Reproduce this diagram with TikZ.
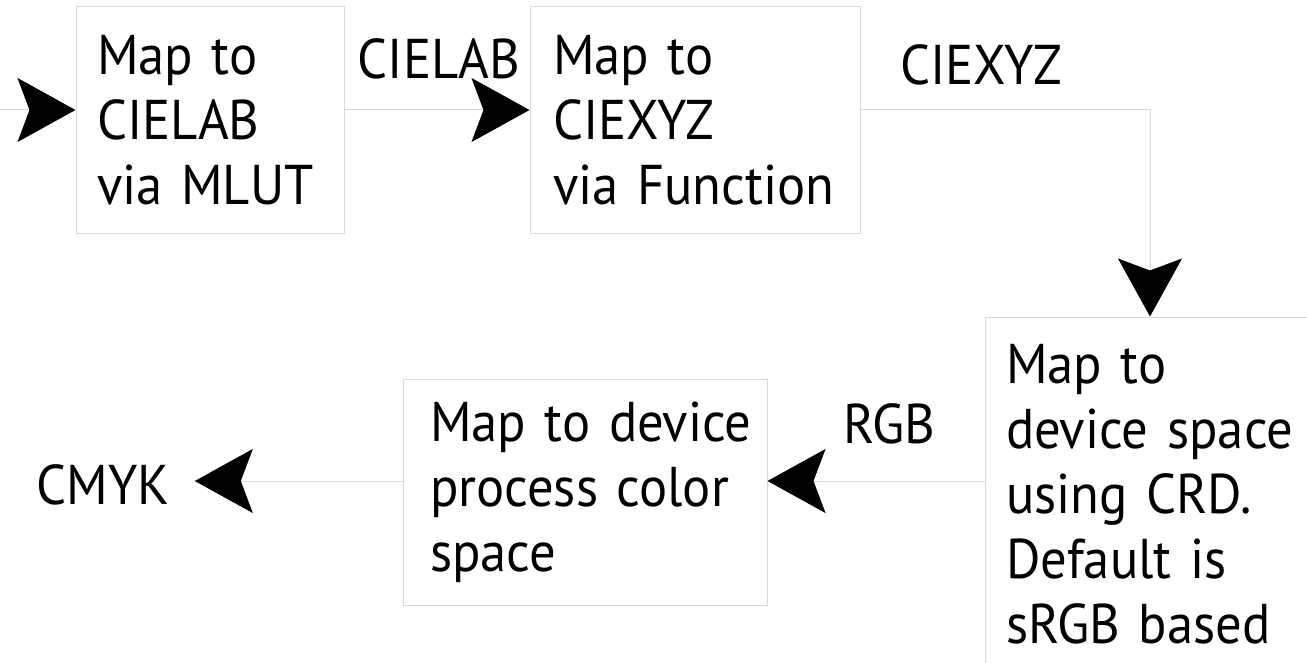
\documentclass[tikz,border=0pt]{standalone}
\usepackage{fontspec}
\setmainfont{PT Sans}[FakeStretch=0.94]
\usetikzlibrary{arrows.meta}
\hyphenpenalty=10000

\tikzset{
  etape/.style={draw=gray!30, line width=1pt, rectangle, align=left,
    inner ysep=0pt, font=\fontsize{56}{65}\selectfont},
  etiquette/.style={inner sep=0pt, font=\fontsize{56}{65}\selectfont},
  fleche/.style={draw=gray!30, line width=1pt,
    -{Stealth[black, length=58pt, width=64pt, inset=12pt]}}
}

\begin{document}
\begin{tikzpicture}[x=1pt, y=-1pt]
\useasboundingbox (0,0) rectangle (1307,663);
\begin{scope}
\clip (0,0) rectangle (1307,663);

% les quatre boites
\node[etape, minimum width=268pt, minimum height=227pt, inner xsep=21pt, text width=226pt]
  (mlut) at (210,120.5) {Map~to\\CIELAB\\via~MLUT};
\node[etape, minimum width=330pt, minimum height=227pt, inner xsep=23pt, text width=284pt]
  (fonction) at (695,120.5) {Map~to\\CIEXYZ\\via~Function};
\node[etape, minimum width=330pt, minimum height=354pt, inner xsep=21pt, text width=288pt]
  (crd) at (1150,494) {Map~to\\device~space\\using~CRD.\\Default~is\\sRGB~based};
\node[etape, minimum width=364pt, minimum height=226pt, inner xsep=27pt, text width=310pt]
  (process) at (585,492) {Map~to~device\\process~color\\space};

% etiquettes
\node[etiquette] (cielab) at (439,58.5) {CIELAB};
\node[etiquette] (ciexyz) at (981,65) {CIEXYZ};
\node[etiquette] (rgb) at (889,424) {RGB};
\node[etiquette] (cmyk) at (103,485) {CMYK};

% fleches
\coordinate (entree) at (0,110);
\coordinate (retour) at (0,481);
\draw[fleche] (entree) -- (entree -| mlut.west);
\draw[fleche] (entree -| mlut.east) -- (entree -| fonction.west);
\draw[fleche] (entree -| fonction.east) -| (crd.north);
\draw[fleche] (retour -| crd.west) -- (retour -| process.east);
\draw[fleche, shorten >=25pt] (retour -| process.west) -- (retour -| cmyk.east);
\end{scope}
\end{tikzpicture}
\end{document}
